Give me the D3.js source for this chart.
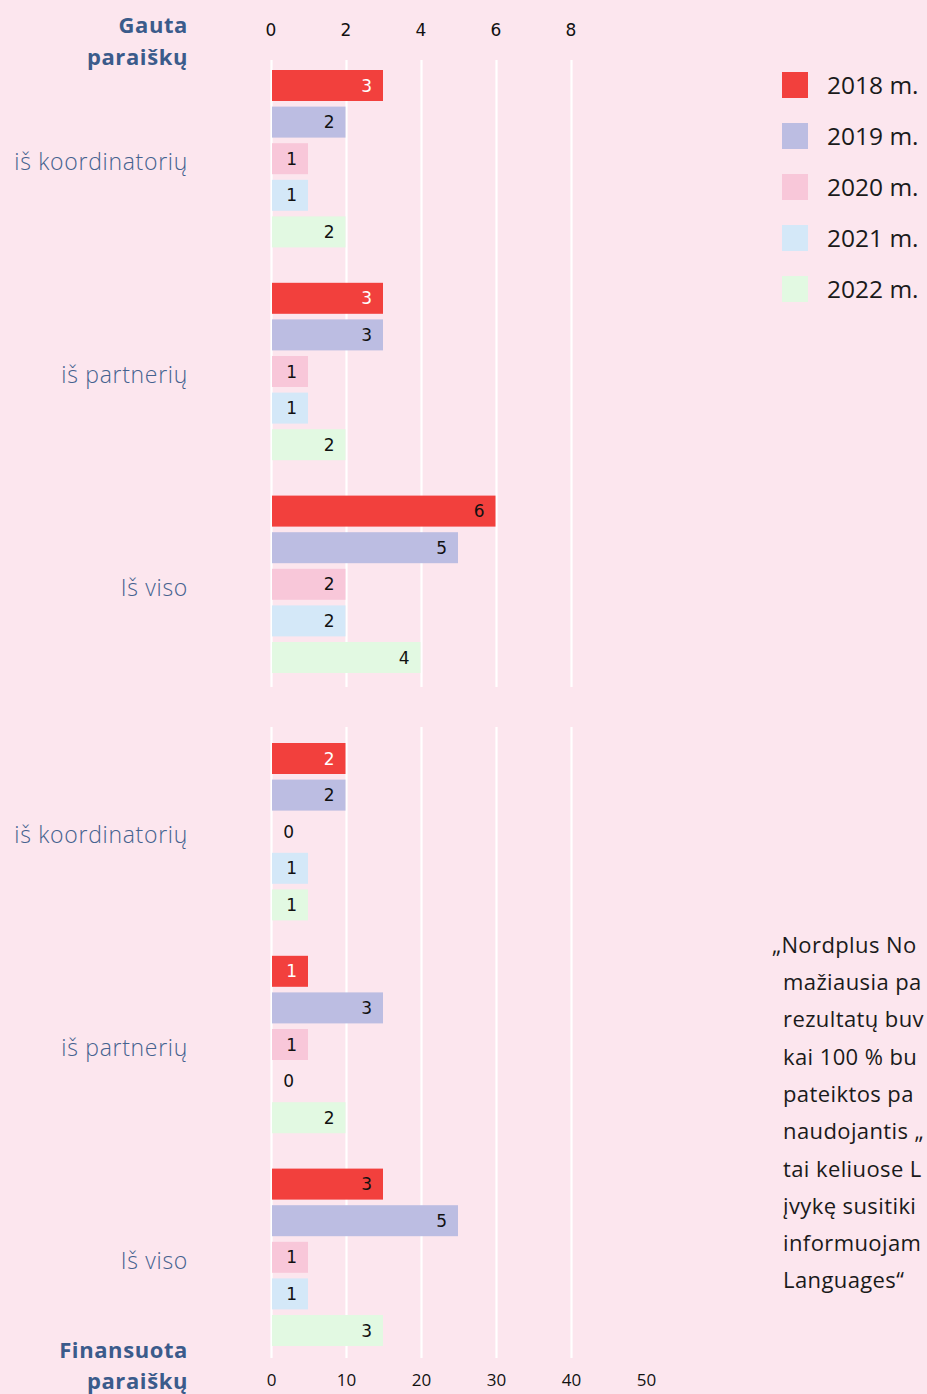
<!DOCTYPE html>
<html>
<head>
<meta charset="utf-8">
<script src="https://cdn.jsdelivr.net/npm/d3@7"></script>
<style>
  body { margin: 0; background: #fce6ee; overflow: hidden; }
  svg { display: block; }
  .cat { font-family: "Open Sans", sans-serif; font-size: 23px; font-weight: 300; letter-spacing: 0.7px; fill: #45628f; }
  .title { font-family: "Open Sans", sans-serif; font-size: 22px; font-weight: bold; letter-spacing: 0.6px; fill: #3b5b8b; }
  .val { font-family: "DejaVu Sans", sans-serif; font-size: 17px; }
  .tick text { font-family: "DejaVu Sans", sans-serif; font-size: 17px; fill: #111; }
  .legend text { font-family: "Open Sans", sans-serif; font-size: 24.5px; fill: #1a1a1a; }
  .quote { font-family: "Open Sans", sans-serif; font-size: 22px; letter-spacing: 0.4px; fill: #1a1a1a; }
</style>
</head>
<body>
<div id="chart"></div>
<script>
// Data
var categories = ["iš koordinatorių", "iš partnerių", "Iš viso"];
var years = ["2018 m.", "2019 m.", "2020 m.", "2021 m.", "2022 m."];
var colors = ["#f2403d", "#bcbde2", "#f8c7d9", "#d4e8f8", "#e2f9e2"];

// received applications, per category, per year
var received = [
  [3, 2, 1, 1, 2],
  [3, 3, 1, 1, 2],
  [6, 5, 2, 2, 4]
];
// funded applications
var funded = [
  [2, 2, 0, 1, 1],
  [1, 3, 1, 0, 2],
  [3, 5, 1, 1, 3]
];

var topTicks = [0, 2, 4, 6, 8];
var bottomTicks = [0, 10, 20, 30, 40, 50];

var quoteLines = [
  "„Nordplus No",
  "mažiausia pa",
  "rezultatų buv",
  "kai 100 % bu",
  "pateiktos pa",
  "naudojantis „",
  "tai keliuose L",
  "įvykę susitiki",
  "informuojam",
  "Languages“"
];

// Set up
var svgWidth = 927;
var svgHeight = 1394;

var svg = d3.select("#chart")
  .append("svg")
  .attr("width", svgWidth)
  .attr("height", svgHeight);

var x = d3.scaleLinear()
  .domain([0, 8])
  .range([270.5, 570.5]);

// bottom axis labels run 0..50 over the same pixel spacing
var xBottom = d3.scaleLinear()
  .domain([0, 50])
  .range([271, 646]);

var inner = d3.scaleBand()
  .domain(years)
  .range([0, 177.4])
  .paddingInner(0.153);

function drawPanel(data, y0, gridTop, gridBottom) {
  var g = svg.append("g");

  var outer = d3.scaleBand()
    .domain(categories)
    .range([y0, y0 + 3 * 212.8]);

  // gridlines
  g.selectAll(".grid")
    .data(topTicks)
    .enter()
    .append("line")
    .attr("x1", d => Math.round(x(d)) + 0.5)
    .attr("x2", d => Math.round(x(d)) + 0.5)
    .attr("y1", gridTop)
    .attr("y2", gridBottom)
    .attr("stroke", "#fff")
    .attr("stroke-width", 2.2);

  categories.forEach(function(cat, ci) {
    var rows = years.map((yr, i) => ({ year: yr, value: data[ci][i], i: i }));

    g.selectAll(".bar" + ci)
      .data(rows)
      .enter()
      .append("rect")
      .attr("x", x(0) + 1.5)
      .attr("y", d => outer(cat) + inner(d.year))
      .attr("width", d => Math.max(0, x(d.value) - x(0) - 1.5))
      .attr("height", inner.bandwidth())
      .attr("fill", d => colors[d.i]);

    g.selectAll(".val" + ci)
      .data(rows)
      .enter()
      .append("text")
      .attr("class", "val")
      .attr("x", d => Math.max(x(d.value) - 11, 294))
      .attr("y", d => outer(cat) + inner(d.year) + inner.bandwidth() / 2)
      .attr("dy", "0.36em")
      .attr("text-anchor", "end")
      .attr("fill", d => (d.i === 0 && ci < 2) ? "#fff" : "#111")
      .text(d => d.value);

    g.append("text")
      .attr("class", "cat")
      .attr("x", 188)
      .attr("y", outer(cat) + 92)
      .attr("dy", "0.35em")
      .attr("text-anchor", "end")
      .text(cat);
  });
}

drawPanel(received, 70, 60, 687);
drawPanel(funded, 743, 727, 1358);

// Axes
var topAxis = d3.axisTop(x).tickValues(topTicks).tickSize(0).tickPadding(0);
svg.append("g")
  .attr("transform", "translate(0, 36)")
  .call(topAxis)
  .call(g => g.select(".domain").remove());

var bottomAxis = d3.axisBottom(xBottom).tickValues(bottomTicks).tickSize(0).tickPadding(0);
svg.append("g")
  .attr("transform", "translate(0, 1374)")
  .call(bottomAxis)
  .call(g => g.select(".domain").remove())
  .selectAll("text")
  .style("font-family", "'Open Sans', sans-serif")
  .style("font-size", "17px");

// Titles
var t1 = svg.append("text").attr("class", "title").attr("text-anchor", "end");
t1.append("tspan").attr("x", 188).attr("y", 33).text("Gauta");
t1.append("tspan").attr("x", 188).attr("y", 65).text("paraiškų");

var t2 = svg.append("text").attr("class", "title").attr("text-anchor", "end");
t2.append("tspan").attr("x", 188).attr("y", 1358).text("Finansuota");
t2.append("tspan").attr("x", 188).attr("y", 1389).text("paraiškų");

// Legend
var legend = svg.append("g").attr("class", "legend");
var ly = d3.scalePoint().domain(years).range([85, 289]);

legend.selectAll("rect")
  .data(years)
  .enter()
  .append("rect")
  .attr("x", 782)
  .attr("y", d => ly(d) - 13)
  .attr("width", 26)
  .attr("height", 26)
  .attr("fill", (d, i) => colors[i]);

legend.selectAll("text")
  .data(years)
  .enter()
  .append("text")
  .attr("x", 827)
  .attr("y", d => ly(d))
  .attr("dy", "0.36em")
  .text(d => d);

// Quote text on the right
svg.selectAll(".quote")
  .data(quoteLines)
  .enter()
  .append("text")
  .attr("class", "quote")
  .attr("x", (d, i) => i === 0 ? 772 : 783)
  .attr("y", (d, i) => 945 + i * 37.3)
  .attr("dy", "0.35em")
  .text(d => d);
</script>
</body>
</html>
